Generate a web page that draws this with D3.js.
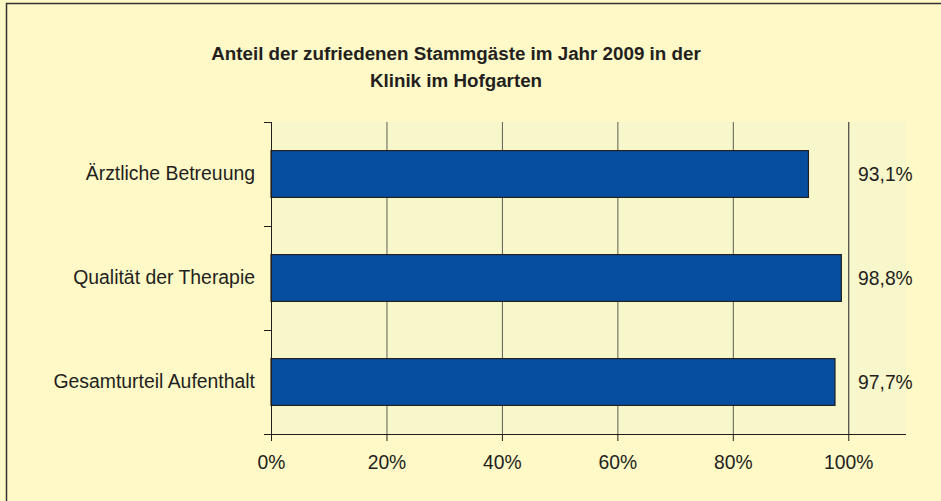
<!DOCTYPE html>
<html>
<head>
<meta charset="utf-8">
<script src="https://cdn.jsdelivr.net/npm/d3@7"></script>
<style>
  html, body { margin: 0; padding: 0; background: #fef9c6; }
  svg { display: block; font-family: 'Liberation Sans', Arial, sans-serif; }
</style>
</head>
<body>
<div id="canvas"></div>
<script>
const titleLines = ['Anteil der zufriedenen Stammgäste im Jahr 2009 in der', 'Klinik im Hofgarten'];
const categories = ['Ärztliche Betreuung', 'Qualität der Therapie', 'Gesamturteil Aufenthalt'];
const values = [93.1, 98.8, 97.7];
const valueLabels = ['93,1%', '98,8%', '97,7%'];
const xTicks = [0, 20, 40, 60, 80, 100];

const w = 941;
const h = 501;
const plotLeft = 271, plotRight = 906, plotTop = 122, plotBottom = 434;
const textColor = '#231f20';

const svg = d3.select('#canvas')
  .append('svg')
  .attr('width', w)
  .attr('height', h);

// outer frame
svg.append('rect')
  .attr('x', 0).attr('y', 0).attr('width', w).attr('height', h)
  .attr('fill', '#fef9c6');
svg.append('path')
  .attr('d', 'M6.5,' + h + 'V3.5H' + w)
  .attr('fill', 'none')
  .attr('stroke', '#333')
  .attr('stroke-width', 1.5);

const xScale = d3.scaleLinear().domain([0, 110]).range([plotLeft, plotRight]);
const yScale = d3.scaleBand()
  .domain(categories)
  .range([plotTop, plotBottom])
  .paddingInner(0.55)
  .paddingOuter(0.275);

// plot background
svg.append('rect')
  .attr('x', plotLeft).attr('y', plotTop)
  .attr('width', plotRight - plotLeft).attr('height', plotBottom - plotTop)
  .attr('fill', '#f8f6cb');

// gridlines
svg.append('g')
  .attr('transform', 'translate(0,' + plotBottom + ')')
  .call(d3.axisBottom(xScale).tickValues(xTicks.slice(1)).tickSize(-(plotBottom - plotTop)).tickFormat(''))
  .call(g => g.select('.domain').remove())
  .call(g => g.selectAll('.tick line').attr('stroke', d => d === 100 ? '#231f20' : '#5f5d52').attr('stroke-width', 1));

// bars
svg.selectAll('rect.bar')
  .data(values)
  .enter()
  .append('rect')
  .attr('class', 'bar')
  .attr('x', xScale(0))
  .attr('y', (d, i) => yScale(categories[i]))
  .attr('width', d => xScale(d) - xScale(0))
  .attr('height', yScale.bandwidth())
  .attr('fill', '#054ea0')
  .attr('stroke', '#222')
  .attr('stroke-width', 1.2);

// value labels
svg.selectAll('text.value')
  .data(valueLabels)
  .enter()
  .append('text')
  .attr('class', 'value')
  .attr('x', xScale(101.7))
  .attr('y', (d, i) => yScale(categories[i]) + yScale.bandwidth() / 2)
  .attr('dy', '0.36em')
  .attr('fill', textColor)
  .style('font-size', '19.3px')
  .text(d => d);

// x axis
svg.append('g')
  .attr('id', 'x-axis')
  .attr('transform', 'translate(0,' + plotBottom + ')')
  .call(d3.axisBottom(xScale).tickValues(xTicks).tickSize(7).tickPadding(14).tickFormat(d => d + '%'))
  .call(g => g.select('.domain').attr('d', 'M' + (plotLeft - 6) + ',0.5H' + plotRight).attr('stroke', '#231f20'))
  .call(g => g.selectAll('.tick line').attr('stroke', '#231f20'))
  .call(g => g.selectAll('text').attr('fill', textColor).style('font-size', '19.3px').style('font-family', null));

// y axis (category labels)
svg.append('g')
  .attr('id', 'y-axis')
  .attr('transform', 'translate(' + plotLeft + ',0)')
  .call(d3.axisLeft(yScale).tickSize(0).tickPadding(16))
  .call(g => g.select('.domain').remove())
  .call(g => g.selectAll('text').attr('fill', textColor).style('font-size', '19.4px').style('font-family', null));

// y axis line and boundary ticks
const bounds = d3.range(categories.length + 1).map(i => plotTop + i * yScale.step());
svg.append('line')
  .attr('x1', plotLeft + 0.5).attr('x2', plotLeft + 0.5)
  .attr('y1', plotTop).attr('y2', plotBottom)
  .attr('stroke', '#231f20');
svg.selectAll('line.ytick')
  .data(bounds)
  .enter()
  .append('line')
  .attr('class', 'ytick')
  .attr('x1', plotLeft - 7).attr('x2', plotLeft)
  .attr('y1', d => d + 0.5).attr('y2', d => d + 0.5)
  .attr('stroke', '#231f20');

// title
svg.append('text')
  .attr('x', 456)
  .attr('y', 60)
  .attr('text-anchor', 'middle')
  .attr('fill', textColor)
  .style('font-size', '18.8px')
  .style('font-weight', 'bold')
  .selectAll('tspan')
  .data(titleLines)
  .enter()
  .append('tspan')
  .attr('x', 456)
  .attr('dy', (d, i) => i === 0 ? 0 : 27)
  .text(d => d);
</script>
</body>
</html>
